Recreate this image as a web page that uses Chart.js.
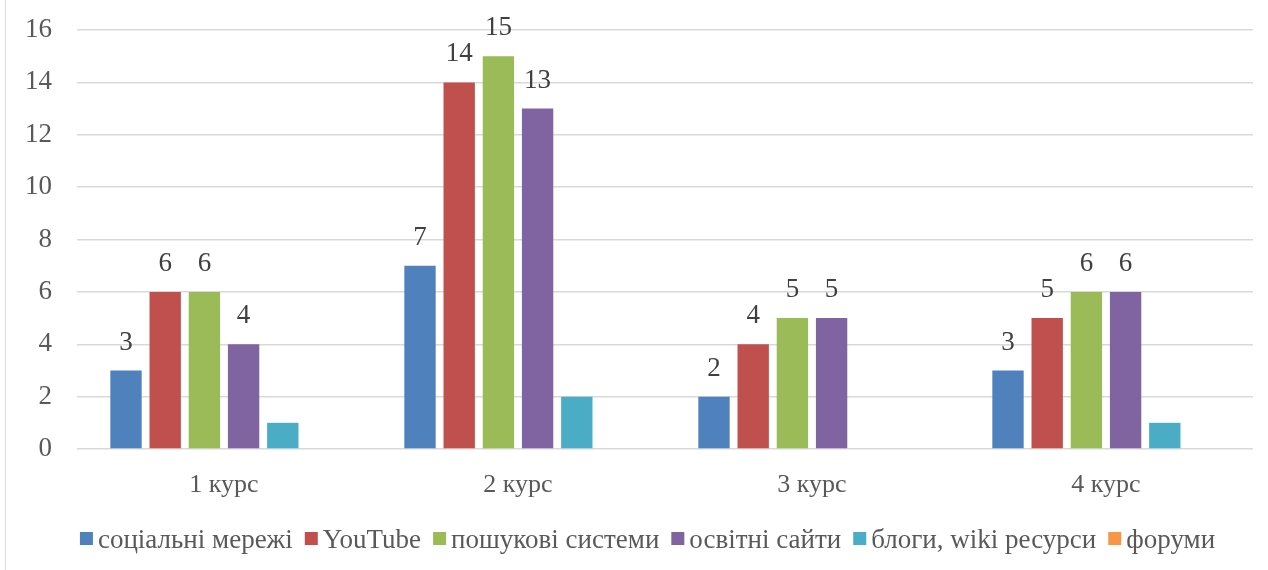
<!DOCTYPE html>
<html>
<head>
<meta charset="utf-8">
<script src="https://cdn.jsdelivr.net/npm/chart.js@4/dist/chart.umd.min.js"></script>
<style>
html,body{margin:0;padding:0;background:#fff;}
#wrap{width:1268px;height:570px;position:relative;}
</style>
</head>
<body>
<div id="wrap"><canvas id="c" width="1268" height="570"></canvas></div>
<script>
const categories = ["1 курс", "2 курс", "3 курс", "4 курс"];
const seriesNames = ["соціальні мережі", "YouTube", "пошукові системи", "освітні сайти", "блоги, wiki ресурси", "форуми"];
const socialNetworks = [3, 7, 2, 3];
const youtube = [6, 14, 4, 5];
const searchEngines = [6, 15, 5, 6];
const eduSites = [4, 13, 5, 6];
const blogsWiki = [1, 2, 0, 1];
const forums = [0, 0, 0, 0];
const yTicks = [0, 2, 4, 6, 8, 10, 12, 14, 16];

const colors = ["#4F81BD", "#C0504D", "#9BBB59", "#8064A2", "#4BACC6", "#F79646"];
const seriesValues = [socialNetworks, youtube, searchEngines, eduSites, blogsWiki, forums];
const labeled = [true, true, true, true, false, false];

const FONT = "'Liberation Serif', 'Times New Roman', serif";

const valueLabels = {
  id: 'valueLabels',
  afterDatasetsDraw(chart) {
    const ctx = chart.ctx;
    ctx.save();
    ctx.font = "27px " + FONT;
    ctx.fillStyle = "#404040";
    ctx.textAlign = "center";
    ctx.textBaseline = "middle";
    chart.data.datasets.forEach((ds, i) => {
      if (!labeled[i]) return;
      const meta = chart.getDatasetMeta(i);
      meta.data.forEach((bar, j) => {
        const v = ds.data[j];
        if (!v) return;
        ctx.fillText(String(v), bar.x, bar.y - 28);
      });
    });
    ctx.restore();
  }
};

const frame = {
  id: 'frame',
  beforeDraw(chart) {
    const ctx = chart.ctx;
    ctx.save();
    ctx.fillStyle = "#fff";
    ctx.fillRect(0, 0, chart.width, chart.height);
    ctx.strokeStyle = "#d9d9d9";
    ctx.lineWidth = 1;
    ctx.beginPath();
    ctx.moveTo(5.5, 0);
    ctx.lineTo(5.5, chart.height);
    ctx.stroke();
    ctx.restore();
  }
};

const customLegend = {
  id: 'customLegend',
  afterDraw(chart) {
    const ctx = chart.ctx;
    ctx.save();
    ctx.font = "27px " + FONT;
    ctx.textBaseline = "middle";
    ctx.textAlign = "left";
    const box = 13, gapText = 5, gapItem = 12;
    const items = chart.data.datasets.map(ds => ({ text: ds.label, color: ds.backgroundColor, w: ctx.measureText(ds.label).width }));
    const total = items.reduce((s, it) => s + box + gapText + it.w, 0) + gapItem * (items.length - 1);
    let x = 647.5 - total / 2;
    const y = 541;
    items.forEach(it => {
      ctx.fillStyle = it.color;
      ctx.fillRect(x, 532, box, box);
      x += box + gapText;
      ctx.fillStyle = "#595959";
      ctx.fillText(it.text, x, y);
      x += it.w + gapItem;
    });
    ctx.restore();
  }
};

new Chart(document.getElementById('c'), {
  type: 'bar',
  data: {
    labels: categories,
    datasets: seriesNames.map((n, i) => ({
      label: n,
      data: seriesValues[i],
      backgroundColor: colors[i],
      borderWidth: 0,
      categoryPercentage: 0.8,
      barPercentage: 0.8
    }))
  },
  options: {
    responsive: false,
    animation: false,
    devicePixelRatio: 1,
    layout: { padding: { left: 0, right: 15, top: 30, bottom: 0 } },
    plugins: {
      tooltip: { enabled: false },
      legend: { display: false }
    },
    scales: {
      x: {
        grid: { display: false, drawTicks: false },
        border: { display: false },
        ticks: { color: "#595959", font: { family: FONT, size: 26 }, padding: 21 },
        afterFit(scale) { scale.height = 121; scale.paddingLeft = 0; scale.paddingRight = 0; }
      },
      y: {
        min: 0,
        max: 16,
        afterBuildTicks(scale) { scale.ticks = yTicks.map(v => ({ value: v })); },
        grid: { color: "#d9d9d9", lineWidth: 1.5, drawTicks: false },
        border: { display: false },
        ticks: { color: "#595959", font: { family: FONT, size: 27 }, padding: 25 },
        afterFit(scale) { scale.width = 77; scale.paddingTop = 0; scale.paddingBottom = 0; }
      }
    }
  },
  plugins: [frame, valueLabels, customLegend]
});
</script>
</body>
</html>
